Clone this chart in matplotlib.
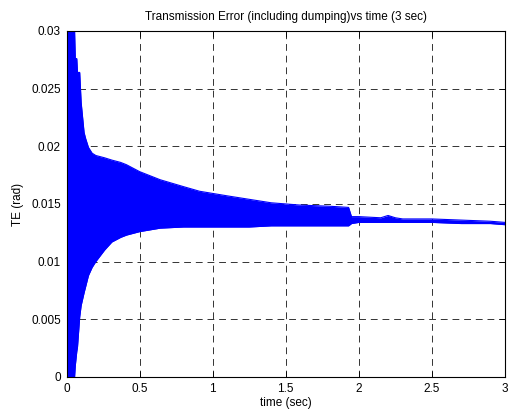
import matplotlib
matplotlib.use("Agg")
import matplotlib.pyplot as plt

# envelope of the dense oscillation
t_env = [0.0, 0.055, 0.06, 0.07, 0.075, 0.09, 0.1, 0.12, 0.13, 0.15, 0.175, 0.2,
         0.26, 0.31, 0.37, 0.41, 0.5, 0.64, 0.8, 0.91, 1.1, 1.25, 1.4, 1.6, 1.8,
         1.93, 1.95, 2.0, 2.15, 2.2, 2.25, 2.3, 2.5, 2.7, 2.9, 3.0]
te_upper = [0.03, 0.03, 0.0276, 0.0276, 0.0264, 0.0264, 0.0238, 0.0212, 0.0207,
            0.0199, 0.0194, 0.0192, 0.0190, 0.0188, 0.0186, 0.0184, 0.0178, 0.0171,
            0.0165, 0.0161, 0.0157, 0.0154, 0.0151, 0.0149, 0.0148, 0.0147, 0.0139,
            0.0139, 0.0138, 0.0140, 0.0138, 0.0137, 0.0137, 0.0136, 0.0135, 0.0134]
te_lower = [0.0, 0.0, 0.001, 0.0022, 0.0026, 0.0052, 0.0062, 0.0073, 0.0078,
            0.0088, 0.0095, 0.0100, 0.0110, 0.0117, 0.0121, 0.0123, 0.0126, 0.0129,
            0.0130, 0.0130, 0.0130, 0.0130, 0.0131, 0.0131, 0.0131, 0.0131, 0.0133,
            0.0134, 0.0134, 0.0134, 0.0134, 0.0134, 0.0134, 0.0133, 0.0133, 0.0132]

x_ticks = [0, 0.5, 1, 1.5, 2, 2.5, 3]
x_labels = ["0", "0.5", "1", "1.5", "2", "2.5", "3"]
y_ticks = [0, 0.005, 0.01, 0.015, 0.02, 0.025, 0.03]
y_labels = ["0", "0.005", "0.01", "0.015", "0.02", "0.025", "0.03"]

plt.rcParams["font.family"] = ["Liberation Sans", "DejaVu Sans"]
plt.rcParams["font.size"] = 8.5

fig = plt.figure(figsize=(5.08, 4.12), dpi=100)
ax = fig.add_axes([0.131, 0.085, 0.863, 0.840])

ax.fill_between(t_env, te_lower, te_upper, color="#0000ff", lw=0)
ax.plot(t_env, te_upper, color="#0000ff", lw=0.8)
ax.plot(t_env, te_lower, color="#0000ff", lw=0.8)

ax.set_xlim(0, 3)
ax.set_ylim(0, 0.03)
ax.set_xticks(x_ticks)
ax.set_xticklabels(x_labels)
ax.set_yticks(y_ticks)
ax.set_yticklabels(y_labels)
ax.tick_params(direction="in", top=True, right=True, length=4, width=0.6, pad=4)
ax.grid(True, color="0.2", linestyle=(0, (7, 5)), linewidth=0.7)
ax.set_axisbelow(True)
for s in ax.spines.values():
    s.set_linewidth(0.8)

ax.set_xlabel("time (sec)", labelpad=2)
ax.set_ylabel("TE (rad)", labelpad=5)
ax.set_title("Transmission Error (including dumping)vs time (3 sec)", fontsize=8.5, pad=8)

fig.savefig("out.png", dpi=100)
